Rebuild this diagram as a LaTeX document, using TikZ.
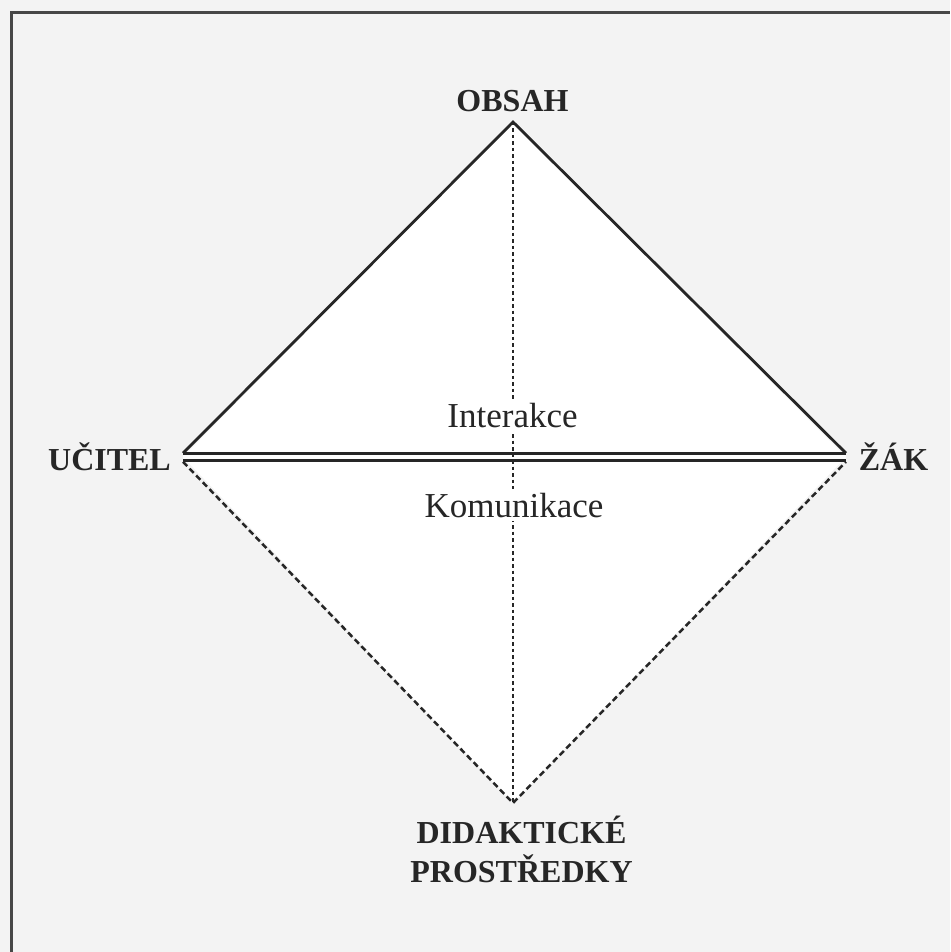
\documentclass[tikz,border=0pt]{standalone}
\usepackage{fontspec}
\setmainfont{Liberation Serif}
\definecolor{inkc}{HTML}{262626}
\definecolor{paper}{HTML}{F3F3F3}
\begin{document}
\begin{tikzpicture}[x=1pt,y=-1pt,
  frameline/.style={draw=inkc!85, line width=3pt},
  solidedge/.style={draw=inkc, line width=2.8pt, line join=miter},
  dashedge/.style={draw=inkc, line width=2.5pt, dash pattern=on 6pt off 3.5pt},
  vdash/.style={draw=inkc, line width=2.5pt, dash pattern=on 3.5pt off 3pt},
  boldlbl/.style={font=\fontsize{32}{38}\selectfont\bfseries, text=inkc, inner sep=0pt, anchor=base},
  midlbl/.style={font=\fontsize{35}{40}\selectfont, text=inkc, fill=white, inner xsep=2pt, inner ysep=4pt, anchor=base}]
\useasboundingbox (0,0) rectangle (950,952);
\fill[paper] (0,0) rectangle (950,952);
% frame (only top and left edges are visible)
\coordinate (f1) at (11,952);
\coordinate (f2) at (11,12.5);
\coordinate (f3) at (950,12.5);
\draw[frameline] (f1) -- (f2) -- (f3);
% vertices
\coordinate (T) at (513,122);
\coordinate (L) at (183,457);
\coordinate (R) at (846,457);
\coordinate (B) at (513,803);
\fill[white] (T) -- (R) -- (B) -- (L) -- cycle;
% edges
\draw[solidedge] ([yshift=3.8pt]L) -- (T) -- ([yshift=3.8pt]R);
\draw[draw=inkc, line width=2.7pt, double=white, double distance=4.5pt] (L) -- (R);
\draw[dashedge] ([yshift=-4.8pt]L) -- (B) -- ([yshift=-4.8pt]R);
\draw[vdash] (T) -- (B);
% labels
\node[boldlbl] (obsah) at (512.5,112) {OBSAH};
\node[boldlbl] (ucitel) at (109.5,470) {UČITEL};
\node[boldlbl] (zak) at (893.5,470) {ŽÁK};
\node[boldlbl] (dp1) at (521.5,843) {DIDAKTICKÉ};
\node[boldlbl] (dp2) at (521.5,882) {PROSTŘEDKY};
\node[midlbl] (inter) at (512.5,427) {Interakce};
\node[midlbl] (komu) at (514,517) {Komunikace};
\end{tikzpicture}
\end{document}
